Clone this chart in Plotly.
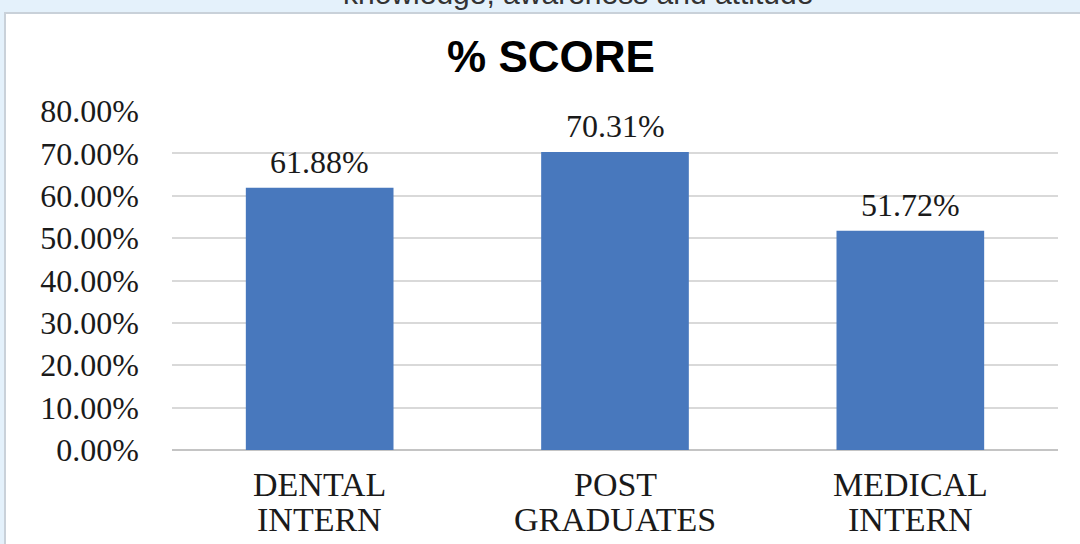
import plotly.graph_objects as go

categories = ["DENTAL<br>INTERN", "POST<br>GRADUATES", "MEDICAL<br>INTERN"]
scores = [61.88, 70.31, 51.72]
score_labels = ["61.88%", "70.31%", "51.72%"]
tick_values = [0, 10, 20, 30, 40, 50, 60, 70, 80]
tick_labels = ["0.00%", "10.00%", "20.00%", "30.00%", "40.00%", "50.00%", "60.00%", "70.00%", "80.00%"]

W, H = 1080, 544
L, R, T, B = 172, 22, 111, 94
pw, ph = W - L - R, H - T - B

def px_x(p):
    return (p - L) / pw

def px_y(p):
    return (H - B - p) / ph

serif = "Liberation Serif, Times New Roman, serif"
sans = "Liberation Sans, Arial, sans-serif"

fig = go.Figure()
fig.add_trace(go.Bar(
    x=categories, y=scores,
    marker=dict(color="#4878bd", line=dict(width=0)),
    width=0.5, hoverinfo="skip",
))

annotations = []
for c, v, lab in zip(categories, scores, score_labels):
    annotations.append(dict(x=c, y=v, xref="x", yref="y", text=lab, showarrow=False,
                            yanchor="bottom", yshift=6,
                            font=dict(family=serif, size=32, color="#1a1a1a")))
    line1, line2 = c.split("<br>")
    annotations.append(dict(x=c, y=px_y(484), xref="x", yref="paper", text=line1, showarrow=False,
                            yanchor="middle", font=dict(family=serif, size=34, color="#1a1a1a")))
    annotations.append(dict(x=c, y=px_y(519), xref="x", yref="paper", text=line2, showarrow=False,
                            yanchor="middle", font=dict(family=serif, size=34, color="#1a1a1a")))

annotations.append(dict(x=px_x(578), y=px_y(12), xref="paper", yref="paper",
                        text="knowledge, awareness and attitude", showarrow=False,
                        yanchor="bottom", font=dict(family=sans, size=30, color="#333333")))

fig.update_layout(
    width=W, height=H,
    margin=dict(l=L, r=R, t=T, b=B, pad=0),
    paper_bgcolor="#e4f1fb",
    plot_bgcolor="rgba(0,0,0,0)",
    showlegend=False,
    title=dict(text="<b>% SCORE</b>", x=551 / W, xref="container", xanchor="center",
               y=1 - 57 / H, yref="container", yanchor="middle",
               font=dict(family=sans, size=44, color="#000000")),
    annotations=annotations,
    shapes=[dict(type="rect", xref="paper", yref="paper", layer="below",
                 x0=px_x(5), x1=px_x(1085), y0=px_y(549), y1=px_y(13),
                 fillcolor="#ffffff", line=dict(color="#c9d1d9", width=2))],
    xaxis=dict(showticklabels=False, showgrid=False, zeroline=False, showline=False,
               range=[-0.5, 2.5]),
    yaxis=dict(range=[0, 80], tickvals=tick_values, ticktext=tick_labels,
               showgrid=True, gridcolor="#d9d9d9", gridwidth=1.5,
               zeroline=True, zerolinecolor="#c4c4c4", zerolinewidth=2,
               showline=False, ticks="", ticklabelstandoff=32,
               tickfont=dict(family=serif, size=32, color="#1a1a1a")),
)

fig.write_html("out.html", config={"displayModeBar": False},
               post_script="document.body.style.margin='0';")
